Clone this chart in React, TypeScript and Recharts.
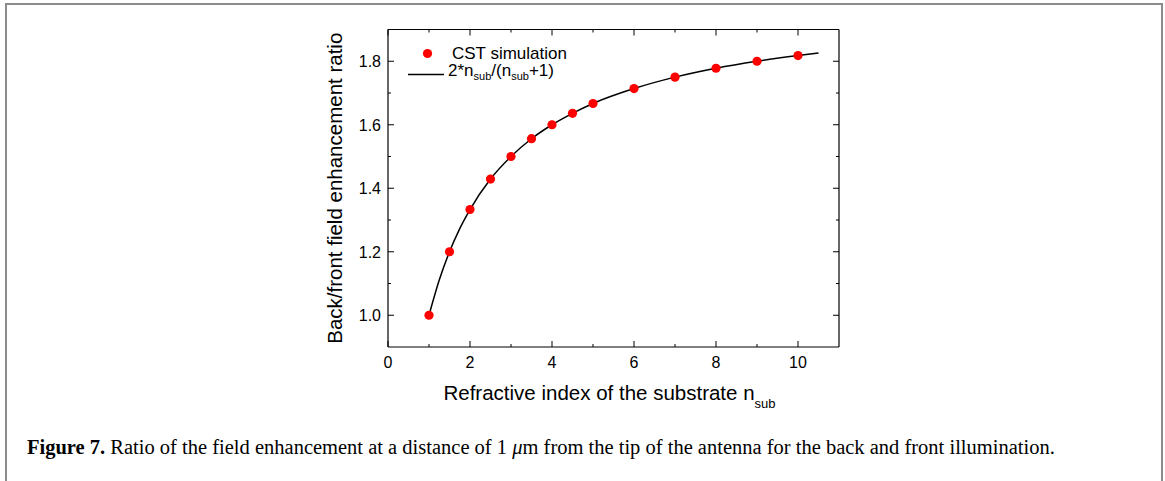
import React from 'react';
import { ComposedChart, Line, Scatter, XAxis, YAxis, Legend } from 'recharts';

// CST simulation points (n_sub, ratio)
const cstN = [1, 1.5, 2, 2.5, 3, 3.5, 4, 4.5, 5, 6, 7, 8, 9, 10];
const cstRatio = [1.0, 1.2, 1.333, 1.429, 1.5, 1.556, 1.6, 1.636, 1.667, 1.714, 1.75, 1.778, 1.8, 1.818];

// analytic curve 2*n/(n+1)
const curveN = [1, 1.25, 1.5, 1.75, 2, 2.5, 3, 3.5, 4, 4.5, 5, 6, 7, 8, 9, 10, 10.5];
const curveRatio = [1.0, 1.111, 1.2, 1.273, 1.333, 1.429, 1.5, 1.556, 1.6, 1.636, 1.667, 1.714, 1.75, 1.778, 1.8, 1.818, 1.826];

const xTicks = [0, 1, 2, 3, 4, 5, 6, 7, 8, 9, 10];
const xLabels = [0, 2, 4, 6, 8, 10];
const yTicks = [1.0, 1.1, 1.2, 1.3, 1.4, 1.5, 1.6, 1.7, 1.8];
const yLabels = [1.0, 1.2, 1.4, 1.6, 1.8];

const cstData = cstN.map((x, i) => ({ x, y: cstRatio[i] }));
const curveData = curveN.map((x, i) => ({ x, y: curveRatio[i] }));

const FONT = '"Liberation Sans", Arial, sans-serif';
const MAJOR = 6;
const MINOR = 3;

const isLabel = (list: number[], v: number) => list.some(l => Math.abs(l - v) < 1e-6);

const BottomTick = (props: any) => {
  const { x, y, payload } = props;
  const major = isLabel(xLabels, payload.value);
  return (
    <g>
      <line x1={x} x2={x} y1={y} y2={y - (major ? MAJOR : MINOR)} stroke="#000" strokeWidth={1} />
      {major && (
        <text x={x} y={y + 9} dy="0.75em" textAnchor="middle" fontFamily={FONT} fontSize={16} fill="#000">
          {payload.value}
        </text>
      )}
    </g>
  );
};

const TopTick = (props: any) => {
  const { x, y, payload } = props;
  const major = isLabel(xLabels, payload.value);
  return <line x1={x} x2={x} y1={y} y2={y + (major ? MAJOR : MINOR)} stroke="#000" strokeWidth={1} />;
};

const LeftTick = (props: any) => {
  const { x, y, payload } = props;
  const major = isLabel(yLabels, payload.value);
  return (
    <g>
      <line x1={x} x2={x + (major ? MAJOR : MINOR)} y1={y} y2={y} stroke="#000" strokeWidth={1} />
      {major && (
        <text x={x - 7} y={y} dy="0.36em" textAnchor="end" fontFamily={FONT} fontSize={16} fill="#000">
          {payload.value.toFixed(1)}
        </text>
      )}
    </g>
  );
};

const RightTick = (props: any) => {
  const { x, y, payload } = props;
  const major = isLabel(yLabels, payload.value);
  return <line x1={x} x2={x - (major ? MAJOR : MINOR)} y1={y} y2={y} stroke="#000" strokeWidth={1} />;
};

const XTitle = (props: any) => {
  const { viewBox } = props;
  const cx = viewBox.x + viewBox.width / 2 - 4;
  return (
    <text x={cx} y={400} textAnchor="middle" fontFamily={FONT} fontSize={20.5} fill="#000">
      Refractive index of the substrate n
      <tspan fontSize={13} dy={8}>sub</tspan>
    </text>
  );
};

const YTitle = (props: any) => {
  const { viewBox } = props;
  const cy = viewBox.y + viewBox.height / 2;
  return (
    <text
      x={342}
      y={cy}
      transform={`rotate(-90 342 ${cy})`}
      textAnchor="middle"
      fontFamily={FONT}
      fontSize={20.5}
      fill="#000"
    >
      Back/front field enhancement ratio
    </text>
  );
};

const LegendBox = () => (
  <div style={{ fontFamily: FONT, fontSize: 17, color: '#000', lineHeight: '21px' }}>
    <div style={{ display: 'flex', alignItems: 'center', height: 21 }}>
      <svg width={40} height={21} style={{ marginRight: 4 }}>
        <circle cx={19.5} cy={10.5} r={4.6} fill="#ff0000" />
      </svg>
      <span>CST simulation</span>
    </div>
    <div style={{ display: 'flex', alignItems: 'center', height: 21 }}>
      <svg width={40} height={21}>
        <line x1={0} x2={36} y1={10.5} y2={10.5} stroke="#000" strokeWidth={1.5} />
      </svg>
      <span>
        2*n<sub style={{ fontSize: 11 }}>sub</sub>/(n<sub style={{ fontSize: 11 }}>sub</sub>+1)
      </span>
    </div>
  </div>
);

const Dot = (props: any) => <circle cx={props.cx} cy={props.cy} r={4.6} fill="#ff0000" />;
const NoShape = () => null;

export default function App() {
  return (
    <div style={{ position: 'absolute', left: 0, top: 0, width: 1165, height: 481, background: '#fff' }}>
      <div
        style={{
          position: 'absolute',
          left: 5,
          top: 3,
          width: 1158,
          height: 490,
          borderLeft: '2px solid #8c8c8c',
          borderTop: '2px solid #8c8c8c',
          borderRight: '2px solid #8c8c8c',
          boxSizing: 'border-box',
        }}
      />
      <div style={{ position: 'absolute', left: 0, top: 0 }}>
        <ComposedChart
          width={1165}
          height={420}
          margin={{ top: 28.5, right: 325, bottom: 23, left: 328 }}
        >
          <XAxis
            xAxisId="b"
            type="number"
            dataKey="x"
            domain={[0, 11]}
            ticks={xTicks}
            interval={0}
            height={50}
            tickSize={0}
            tickMargin={0}
            tickLine={false}
            axisLine={{ stroke: '#000', strokeWidth: 1.2 }}
            tick={BottomTick}
            label={<XTitle />}
          />
          <XAxis
            xAxisId="t"
            orientation="top"
            type="number"
            dataKey="x"
            domain={[0, 11]}
            ticks={xTicks}
            interval={0}
            height={1}
            tickSize={0}
            tickMargin={0}
            tickLine={false}
            axisLine={{ stroke: '#000', strokeWidth: 1.2 }}
            tick={TopTick}
          />
          <YAxis
            yAxisId="l"
            type="number"
            dataKey="y"
            domain={[0.9, 1.9]}
            ticks={yTicks}
            interval={0}
            width={60}
            tickSize={0}
            tickMargin={0}
            tickLine={false}
            axisLine={{ stroke: '#000', strokeWidth: 1.2 }}
            tick={LeftTick}
            label={<YTitle />}
          />
          <YAxis
            yAxisId="r"
            orientation="right"
            type="number"
            dataKey="y"
            domain={[0.9, 1.9]}
            ticks={yTicks}
            interval={0}
            width={1}
            tickSize={0}
            tickMargin={0}
            tickLine={false}
            axisLine={{ stroke: '#000', strokeWidth: 1.2 }}
            tick={RightTick}
          />
          <Legend
            layout="vertical"
            align="center"
            verticalAlign="middle"
            content={<LegendBox />}
            wrapperStyle={{ position: 'absolute', left: 408, top: 42.5, width: 'auto' }}
          />
          <Line
            xAxisId="b"
            yAxisId="l"
            data={curveData}
            dataKey="y"
            type="monotone"
            stroke="#000"
            strokeWidth={1.5}
            dot={false}
            activeDot={false}
            isAnimationActive={false}
          />
          <Scatter
            xAxisId="b"
            yAxisId="l"
            data={cstData}
            dataKey="y"
            fill="#ff0000"
            shape={Dot}
            isAnimationActive={false}
          />
          <Scatter
            xAxisId="t"
            yAxisId="r"
            data={cstData}
            dataKey="y"
            shape={NoShape}
            legendType="none"
            isAnimationActive={false}
          />
        </ComposedChart>
      </div>
      <div
        style={{
          position: 'absolute',
          left: 27,
          top: 436,
          fontFamily: '"Liberation Serif", "Times New Roman", serif',
          fontSize: 20.5,
          color: '#000',
          whiteSpace: 'nowrap',
        }}
      >
        <b>Figure 7.</b> Ratio of the field enhancement at a distance of 1 <i>μ</i>m from the tip of the antenna for the
        back and front illumination.
      </div>
    </div>
  );
}
